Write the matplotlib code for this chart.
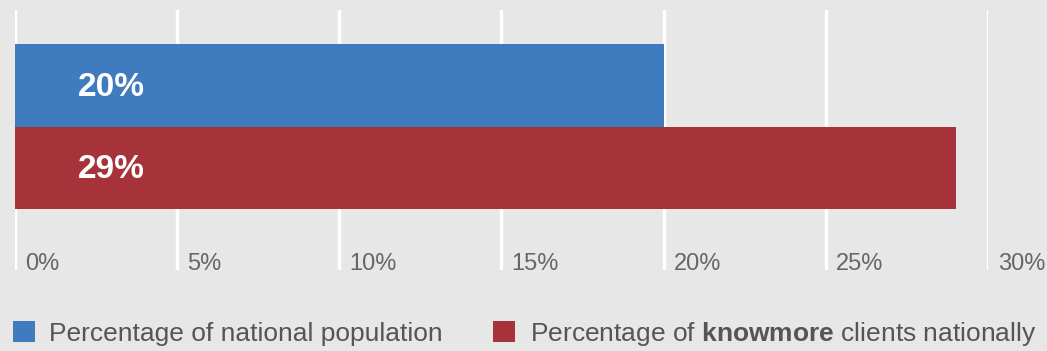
import matplotlib
matplotlib.use('Agg')
import matplotlib.pyplot as plt

# data
series = ['Percentage of national population',
          r'Percentage of $\mathbf{knowmore}$ clients nationally']
values = [20, 29]
bar_labels = ['20%', '29%']
colors = ['#3f7bbf', '#a6333a']
ticks = [0, 5, 10, 15, 20, 25, 30]
tick_labels = ['0%', '5%', '10%', '15%', '20%', '25%', '30%']

plt.rcParams['font.family'] = 'Liberation Sans'
plt.rcParams['mathtext.fontset'] = 'custom'
plt.rcParams['mathtext.rm'] = 'Liberation Sans'
plt.rcParams['mathtext.bf'] = 'Liberation Sans:bold'

bg = '#e7e7e7'
W, H = 1047, 351
fig = plt.figure(figsize=(W / 100, H / 100), dpi=100, facecolor=bg)
ax = fig.add_axes([15 / W, (H - 270) / H, (988 - 15) / W, 260 / H])
ax.set_facecolor(bg)

ypos = [1, 0]
bars = []
for y, v, c, lab, s in zip(ypos, values, colors, bar_labels, series):
    b = ax.barh(y, v, height=1.0, color=c, label=s, zorder=3)
    bars.append(b)
    ax.text(1.95, y - 0.02, lab, color='white', fontsize=24, fontweight='bold',
            va='center', ha='left', zorder=4)

ax.set_xlim(0, 30)
ax.set_ylim(-1.235, 1.915)
for t in ticks:
    ax.axvline(t, color='white', lw=2.5, zorder=1)
for t, tl in zip(ticks, tick_labels):
    ax.text(t + 0.3, -1.165, tl, color='#666666', fontsize=17,
            ha='left', va='center', zorder=4, clip_on=False)

ax.set_xticks([])
ax.set_yticks([])
for sp in ax.spines.values():
    sp.set_visible(False)

fig.legend(handles=[b[0] for b in bars], labels=series, ncol=2,
           loc='center left', bbox_to_anchor=(13 / W, 17 / H), frameon=False,
           fontsize=19, labelcolor='#555555', handlelength=0.83,
           handleheight=0.83, handletextpad=0.55, columnspacing=1.9,
           borderaxespad=0, borderpad=0)

fig.savefig('out.png', dpi=100, facecolor=bg)
